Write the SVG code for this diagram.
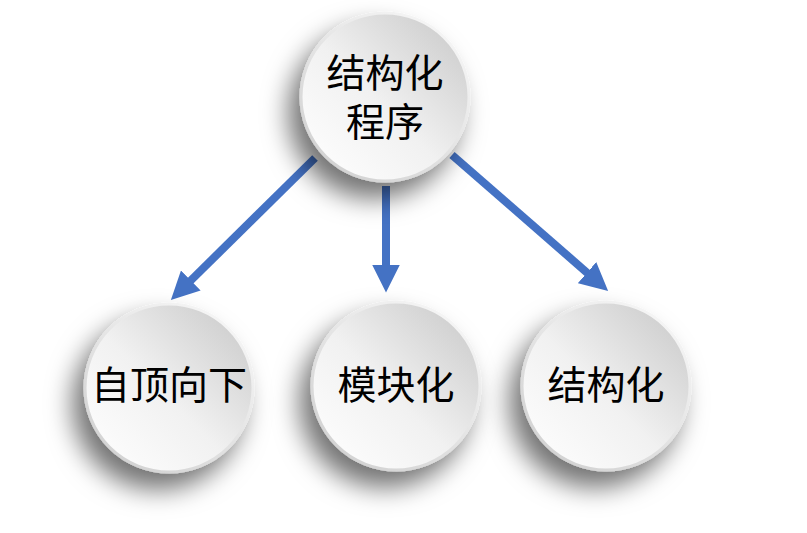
<svg xmlns="http://www.w3.org/2000/svg" width="807" height="533" viewBox="0 0 807 533">
<defs>
<linearGradient id="face" x1="0.15" y1="0.85" x2="0.85" y2="0.15">
<stop offset="0" stop-color="#fbfbfb"/>
<stop offset="0.45" stop-color="#f1f1f1"/>
<stop offset="1" stop-color="#d2d2d2"/>
</linearGradient>
<linearGradient id="rim" x1="0.2" y1="0.9" x2="0.8" y2="0.1">
<stop offset="0" stop-color="#d4d4d4"/>
<stop offset="1" stop-color="#f4f4f4"/>
</linearGradient>
<filter id="shadow" x="-50%" y="-50%" width="200%" height="200%">
<feDropShadow dx="-11" dy="16" stdDeviation="13" flood-color="#000" flood-opacity="0.55"/>
</filter>
<marker id="arrow" markerUnits="userSpaceOnUse" markerWidth="28" markerHeight="28" viewBox="0 0 26 26" refX="6" refY="13" orient="auto">
<path d="M0,0 L26,13 L0,26 z" fill="#4472C4"/>
</marker>
</defs>
<style>
.ball{fill:url(#face);stroke:url(#rim);stroke-width:3;filter:url(#shadow)}
.lbl{font-family:"Noto Sans CJK SC","Noto Sans",sans-serif;font-size:39px;font-weight:400;fill:#000;text-anchor:middle}
.conn{stroke:#4472C4;stroke-width:8;fill:none;marker-end:url(#arrow)}
</style>
<g id="connectors">
<line class="conn" x1="315" y1="158" x2="186.2" y2="285"/>
<line class="conn" x1="386" y1="186" x2="386" y2="271"/>
<line class="conn" x1="452" y1="155" x2="591.9" y2="276.9"/>
</g>
<g id="node-top">
<circle class="ball" cx="385" cy="97" r="84"/>
<text class="lbl" x="385" y="87">结构化<tspan x="385" y="136">程序</tspan></text>
</g>
<g id="node-topdown">
<circle class="ball" cx="169" cy="388" r="84"/>
<text class="lbl" x="169" y="399">自顶向下</text>
</g>
<g id="node-modular">
<circle class="ball" cx="396" cy="386" r="84"/>
<text class="lbl" x="396" y="399">模块化</text>
</g>
<g id="node-structured">
<circle class="ball" cx="606" cy="386" r="84"/>
<text class="lbl" x="606" y="399">结构化</text>
</g>
</svg>
